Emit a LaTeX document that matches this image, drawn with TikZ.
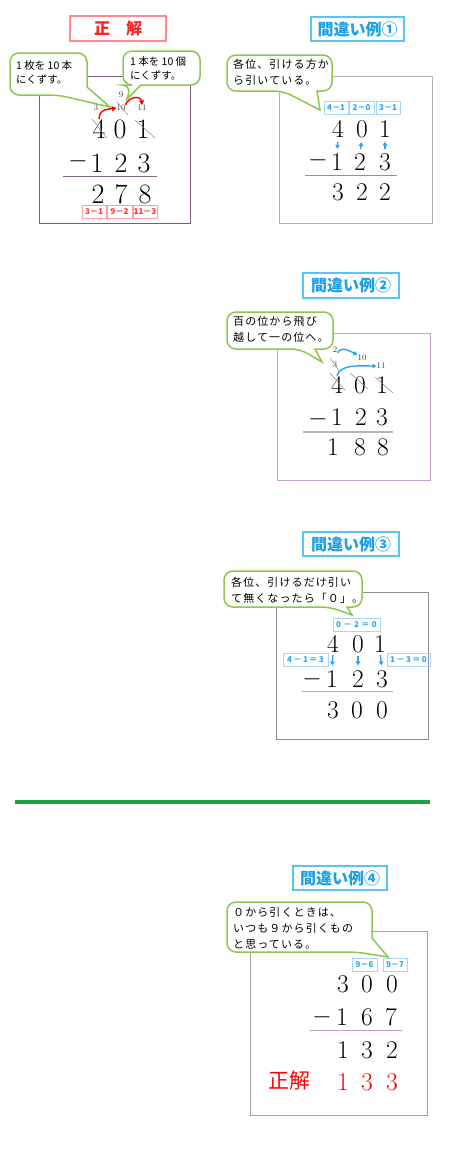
\documentclass[tikz,border=0pt]{standalone}
\usepackage{fontspec}
\newfontfamily\jp{Noto Sans CJK JP}
\newfontfamily\jpls[LetterSpace=10]{Noto Sans CJK JP}
\usetikzlibrary{arrows.meta,calc}
\definecolor{tred}{HTML}{FF2020}
\definecolor{tredb}{HTML}{FF8C8C}
\definecolor{tblue}{HTML}{1EA0E6}
\definecolor{tblueb}{HTML}{5CC4F2}
\definecolor{bgreen}{HTML}{8CC850}
\definecolor{sblue}{HTML}{2AA4F0}
\definecolor{sblueb}{HTML}{A8D4F8}
\definecolor{sred}{HTML}{FF3030}
\definecolor{sredb}{HTML}{FF9C9C}
\definecolor{fr0}{HTML}{7A5A7A}
\definecolor{fr1}{HTML}{A8B8A8}
\definecolor{fr2}{HTML}{C4A4C8}
\definecolor{fr3}{HTML}{909090}
\definecolor{fr4}{HTML}{98A898}
\definecolor{ln0}{HTML}{806880}
\definecolor{ln1}{HTML}{9A8A9A}
\definecolor{ln2}{HTML}{B0B8B0}
\definecolor{lpink}{HTML}{E890C8}
\definecolor{ln4}{HTML}{C0A0C0}
\definecolor{numgray}{HTML}{3A3A3A}
\definecolor{slashc}{HTML}{8A8A8A}
\definecolor{sepc}{HTML}{20A040}
\tikzset{
  dg/.style={anchor=base, inner sep=0pt, font=\fontsize{25.5}{26}\selectfont},
  dgA/.style={anchor=base, inner sep=0pt, font=\fontsize{28}{28}\selectfont},
  mn/.style={inner sep=0pt, font=\fontsize{25.5}{26}\selectfont},
  mnA/.style={inner sep=0pt, font=\fontsize{28}{28}\selectfont},
  sm/.style={inner sep=0pt, text=numgray, font=\fontsize{8.5}{9}\selectfont},
  ttl/.style={inner sep=0pt, line width=1.3pt, font=\jp\bfseries\fontsize{16}{16}\selectfont},
  ttlR/.style={ttl, draw=tredb, text=tred},
  ttlB/.style={ttl, draw=tblueb, text=tblue},
  lab/.style={inner sep=0pt, line width=0.8pt, minimum height=13pt, font=\jp\bfseries\fontsize{8}{8}\selectfont},
  labB/.style={lab, draw=sblueb, text=sblue},
  labR/.style={lab, draw=sredb, text=sred},
  bub/.style={draw=bgreen, fill=white, line width=1.5pt, rounded corners=9pt},
  btx/.style={anchor=north west, inner sep=0pt, align=left, font=\jpls\fontsize{11}{16.3}\selectfont},
  btxA/.style={anchor=north west, inner sep=0pt, align=left, font=\jp\fontsize{10.5}{14}\selectfont},
  fr/.style={line width=0.9pt},
  sl/.style={draw=slashc, line width=0.5pt},
  rarr/.style={draw=red, line width=1.4pt, -{Triangle[length=4.5pt,width=5pt]}},
  barr/.style={draw=sblue, line width=1.4pt, -{Triangle[length=4pt,width=4.5pt]}},
}
\begin{document}
\begin{tikzpicture}[x=1pt,y=-1pt]
\useasboundingbox (0,0) rectangle (456,1154);
% ================= Panel 0 : correct =================
\node[ttlR, minimum width=96pt, minimum height=25pt] (t0) at (118,28.5) {正　解};
\draw[fr, draw=fr0] (39,76) rectangle (190,223);
\draw[bub] (87,87) -- (87,53) -- (10,53) -- (10,95) -- (58,95) [sharp corners] -- (110,107) -- cycle;
\node[btxA] (bA) at (16,60.5) {1 枚を 10 本\\にくずす。};
\draw[bub] (141,85) -- (200,85) -- (200,51) -- (123,51) -- (123,85) -- (131,85) [sharp corners] -- (127,99) -- cycle;
\node[btxA] (bB) at (130,56.5) {1 本を 10 個\\にくずす。};
\node[dgA] (p0a1) at (99,138) {4};
\node[dgA] (p0a2) at (120,138) {0};
\node[dgA] (p0a3) at (143,138) {1};
\node[mnA] (p0m) at (78,161) {$-$};
\node[dgA] (p0b1) at (97,172) {1};
\node[dgA] (p0b2) at (121,172) {2};
\node[dgA] (p0b3) at (144,172) {3};
\draw[draw=ln0, line width=0.8pt] (63,176) -- (157,176);
\node[dgA] (p0c1) at (98,203) {2};
\node[dgA] (p0c2) at (121,203) {7};
\node[dgA] (p0c3) at (145,203) {8};
\node[labR, minimum width=24pt] (p0l1) at (94,211.5) {3－1};
\node[labR, minimum width=25pt] (p0l2) at (119.5,211.5) {9－2};
\node[labR, minimum width=24pt] (p0l3) at (145,211.5) {11－3};
\node[sm] (p0s3) at (96,108) {3};
\node[sm] (p0s10) at (121,108) {10};
\node[sm] (p0s9) at (121,95) {9};
\node[sm] (p0s11) at (142,108) {11};
\draw[sl] (92,119) -- (107,138);
\draw[sl] (117,102) -- (128,115);
\draw[sl] (135,120) -- (155,138);
\draw[rarr] (p0a1.north) .. controls +(0,-11) and +(-6,1) .. (p0s10.west);
\draw[rarr] (p0s10.north east) .. controls +(3,-9) and +(-1,-9) .. (p0s11.north);
% ================= Panel 1 =================
\node[ttlB, minimum width=93pt, minimum height=24pt] (t1) at (357.5,29) {間違い例①};
\draw[fr, draw=fr1] (279,76) rectangle (432,223);
\draw[bub] (317,91) -- (332,91) -- (332,55) -- (227,55) -- (227,91) -- (283,91) [sharp corners] -- (320,110) -- cycle;
\node[btx] (b1) at (233,59) {各位、引ける方か\\ら引いている。};
\node[labB, minimum width=24pt] (p1l1) at (336,108) {4－1};
\node[labB, minimum width=25pt] (p1l2) at (361.5,108) {2－0};
\node[labB, minimum width=24pt] (p1l3) at (388,108) {3－1};
\node[dg] (p1a1) at (338,137) {4};
\node[dg] (p1a2) at (362,137) {0};
\node[dg] (p1a3) at (385,137) {1};
\node[mn] (p1m) at (318,160) {$-$};
\node[dg] (p1b1) at (337,170) {1};
\node[dg] (p1b2) at (360,170) {2};
\node[dg] (p1b3) at (385,170) {3};
\draw[barr, shorten <=4.5pt, shorten >=4pt] (p1a1.south) -- (p1b1.north);
\draw[barr, shorten <=4pt, shorten >=4.5pt] (p1b2.north) -- (p1a2.south);
\draw[barr, shorten <=4pt, shorten >=4.5pt] (p1b3.north) -- (p1a3.south);
\draw[draw=ln1, line width=0.8pt] (305,175) -- (397,175);
\node[dg] (p1c1) at (338,200) {3};
\node[dg] (p1c2) at (362,200) {2};
\node[dg] (p1c3) at (385,200) {2};
% ================= Panel 2 =================
\node[ttlB, minimum width=96pt, minimum height=25pt] (t2) at (351,285.5) {間違い例②};
\draw[fr, draw=fr2] (277,333) rectangle (430,480);
\draw[bub] (315,349) -- (333,349) -- (333,312) -- (227,312) -- (227,349) -- (300,349) [sharp corners] -- (322,362) -- cycle;
\node[btx] (b2) at (233,316) {百の位から飛び\\越して一の位へ。};
\node[sm] (p2s2) at (335,350) {2};
\node[sm] (p2s3) at (335,365) {3};
\node[sm] (p2s10) at (362,358) {10};
\node[sm] (p2s11) at (381,366) {11};
\draw[sl] (330,358) -- (340,372);
\node[dg] (p2a1) at (337,393) {4};
\node[dg] (p2a2) at (360,393) {0};
\node[dg] (p2a3) at (382,393) {1};
\draw[sl] (330,373) -- (345,390);
\draw[sl] (350,373) -- (368,389);
\draw[sl] (375,377) -- (393,393);
\draw[barr] (p2s2.south east) .. controls +(4,-8) and +(-6,-3) .. (p2s10.north west);
\draw[barr] (p2a1.north) .. controls +(3,-12) and +(-15,0) .. (p2s11.west);
\node[mn] (p2m) at (318,419) {$-$};
\node[dg] (p2b1) at (337,425) {1};
\node[dg] (p2b2) at (361,425) {2};
\node[dg] (p2b3) at (382,425) {3};
\draw[draw=ln2, line width=1.2pt] (303,432) -- (393,432);
\node[dg] (p2c1) at (333,455) {1};
\node[dg] (p2c2) at (360,455) {8};
\node[dg] (p2c3) at (383,455) {8};
% ================= Panel 3 =================
\node[ttlB, minimum width=96pt, minimum height=24pt] (t3) at (351,544) {間違い例③};
\draw[fr, draw=fr3] (276,592) rectangle (428,739);
\draw[bub] (347,607) -- (362,607) -- (362,571) -- (224,571) -- (224,607) -- (330,607) [sharp corners] -- (352,615) -- cycle;
\node[btx] (b3) at (231,577) {各位、引けるだけ引い\\て無くなったら「０」。};
\node[labB, minimum width=47pt] (p3l0) at (356.5,624.5) {0\hspace{2.5pt}－\hspace{2.5pt}2\hspace{2.5pt}＝\hspace{2.5pt}0};
\node[dg] (p3a1) at (333,652) {4};
\node[dg] (p3a2) at (358,652) {0};
\node[dg] (p3a3) at (380,652) {1};
\node[labB, minimum width=45pt] (p3l1) at (305.5,659.5) {4\hspace{1.5pt}－\hspace{1.5pt}1\hspace{1.5pt}＝\hspace{1.5pt}3};
\node[labB, minimum width=43pt] (p3l2) at (408.5,659.5) {1\hspace{1.5pt}－\hspace{1.5pt}3\hspace{1.5pt}＝\hspace{1.5pt}0};
\node[mn] (p3m) at (312,685.4) {\smash{$-$}};
\node[dg] (p3b1) at (332,687) {1};
\node[dg] (p3b2) at (358,687) {2};
\node[dg] (p3b3) at (382,687) {3};
\draw[barr, shorten <=3pt, shorten >=4.5pt] (p3a1.south) -- (p3b1.north);
\draw[barr, shorten <=3pt, shorten >=4.5pt] (p3a2.south) -- (p3b2.north);
\draw[barr, shorten <=3pt, shorten >=4.5pt] (p3a3.south) -- (p3b3.north);
\draw[draw=lpink, line width=0.9pt] (302,691) -- (393,691);
\node[dg] (p3c1) at (333,718) {3};
\node[dg] (p3c2) at (357,718) {0};
\node[dg] (p3c3) at (382,718) {0};
% ================= separator =================
\draw[draw=sepc, line width=3.5pt] (15,802) -- (430,802);
% ================= Panel 4 =================
\node[ttlB, minimum width=94pt, minimum height=24pt] (t4) at (340,878) {間違い例④};
\draw[fr, draw=fr4] (250,931) rectangle (427,1115);
\draw[bub] (372,938) -- (372,902) -- (227,902) -- (227,952) -- (357,952) [sharp corners] -- (388,957) -- cycle;
\node[btx] (b4) at (233,907) {０から引くときは、\\いつも９から引くもの\\と思っている。};
\node[labB, minimum width=25pt] (p4l1) at (364.5,965) {9－6};
\node[labB, minimum width=24pt] (p4l2) at (395,965) {9－7};
\node[dg] (p4a1) at (343,992) {3};
\node[dg] (p4a2) at (367,992) {0};
\node[dg] (p4a3) at (392,992) {0};
\node[mn] (p4m) at (322,1017) {$-$};
\node[dg] (p4b1) at (342,1025) {1};
\node[dg] (p4b2) at (367,1025) {6};
\node[dg] (p4b3) at (391,1025) {7};
\draw[draw=ln4, line width=0.9pt] (310,1030) -- (402,1030);
\node[dg] (p4c1) at (343,1058) {1};
\node[dg] (p4c2) at (367,1058) {3};
\node[dg] (p4c3) at (392,1058) {2};
\node[inner sep=0pt, text=red, font=\jp\fontsize{21}{21}\selectfont] (p4ans) at (289,1081) {正解};
\node[dg, text=red] (p4d1) at (343,1090) {1};
\node[dg, text=red] (p4d2) at (367,1090) {3};
\node[dg, text=red] (p4d3) at (392,1090) {3};
\end{tikzpicture}
\end{document}
